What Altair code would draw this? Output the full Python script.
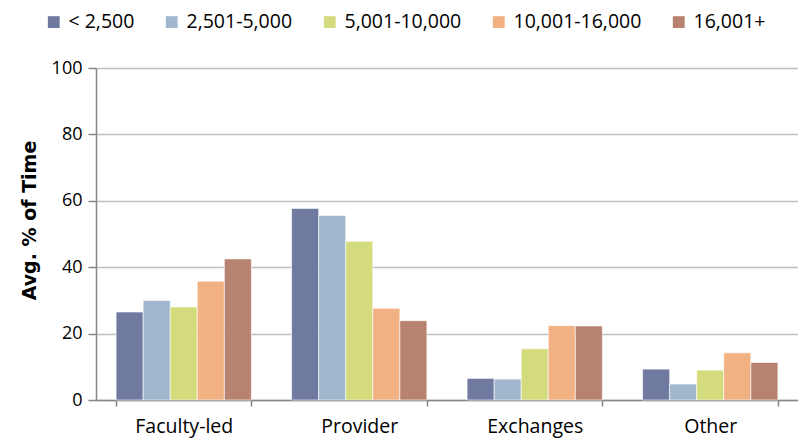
import altair as alt
import pandas as pd

categories = ["Faculty-led", "Provider", "Exchanges", "Other"]
groups = ["< 2,500", "2,501-5,000", "5,001-10,000", "10,001-16,000", "16,001+"]
colors = ["#7079A0", "#A0B7CE", "#D4DB7C", "#F2B183", "#B78370"]

v_lt2500 = [26.5, 57.7, 6.5, 9.3]
v_2501_5000 = [30.0, 55.6, 6.3, 4.8]
v_5001_10000 = [28.0, 47.8, 15.4, 9.0]
v_10001_16000 = [35.8, 27.6, 22.4, 14.2]
v_16001 = [42.5, 23.9, 22.3, 11.3]

series = [v_lt2500, v_2501_5000, v_5001_10000, v_10001_16000, v_16001]
rows = []
for g, vals in zip(groups, series):
    for c, v in zip(categories, vals):
        rows.append({"category": c, "group": g, "value": v})
df = pd.DataFrame(rows)

FONT = "Open Sans"

chart = (
    alt.Chart(df)
    .mark_bar(stroke="white", strokeWidth=0.6)
    .encode(
        x=alt.X(
            "category:N",
            sort=categories,
            title=None,
            scale=alt.Scale(paddingInner=0.229, paddingOuter=0.1145),
            axis=alt.Axis(
                tickBand="extent",
                labelAngle=0,
                labelFontSize=19.5,
                labelFont=FONT,
                labelColor="#000000",
                labelPadding=11,
                tickSize=6,
                tickColor="#868686",
                domainColor="#868686",
                domainWidth=1.5,
                tickWidth=1.5,
                grid=False,
            ),
        ),
        xOffset=alt.XOffset("group:N", sort=groups),
        y=alt.Y(
            "value:Q",
            scale=alt.Scale(domain=[0, 100]),
            axis=alt.Axis(
                values=[0, 20, 40, 60, 80, 100],
                title="Avg. % of Time",
                titleFont="DejaVu Sans",
                titleFontSize=19,
                titleFontWeight="bold",
                titleColor="#000000",
                titleX=-67,
                titleY=152,
                titleAlign="center",
                titleBaseline="middle",
                titleAngle=-90,
                labelFontSize=18,
                labelFont=FONT,
                labelColor="#000000",
                labelPadding=6,
                tickSize=8,
                tickColor="#868686",
                domainColor="#868686",
                domainWidth=1.5,
                tickWidth=1.5,
                gridColor="#BFBFBF",
                gridWidth=1.5,
            ),
        ),
        color=alt.Color(
            "group:N",
            sort=groups,
            scale=alt.Scale(domain=groups, range=colors),
            legend=alt.Legend(
                title=None,
                orient="none",
                direction="horizontal",
                legendX=-52,
                legendY=-56,
                symbolType="square",
                symbolSize=140,
                symbolStrokeWidth=0,
                symbolOpacity=1,
                labelFontSize=19.5,
                labelFont=FONT,
                labelColor="#000000",
                labelOffset=5,
                columnPadding=27,
                padding=0,
                labelLimit=300,
            ),
        ),
    )
    .properties(
        width=702,
        height=332,
        autosize=alt.AutoSizeParams(type="none"),
        padding={"left": 88, "top": 60, "right": 0, "bottom": 39},
    )
    .configure_view(stroke=None)
)

chart.save("out.html", embed_options={"renderer": "svg", "actions": False})
